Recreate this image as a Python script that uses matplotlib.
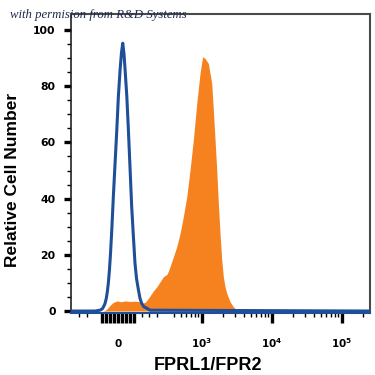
import matplotlib
matplotlib.use("Agg")
import matplotlib.pyplot as plt
import numpy as np

# ---- data (fluorescence value, relative cell number) ----
control_x = [-300, -147, -115, -100, -90, -83, -75, -68, -62, -55, -48, -40, -30, -19, -8, 2, 13, 22, 30,
             38, 45, 56, 66, 77, 87, 98, 108, 118, 130, 140, 151, 165, 183, 204, 250000]
control_y = [0, 0, 0.3, 0.8, 1.8, 2.7, 4.5, 7.0, 9.9, 14.5, 20.5, 28.8, 40.7, 52.6, 64.4, 76.3, 85.8, 92.0, 95.3,
             91.5, 85.8, 76.3, 64.4, 50.2, 37.1, 26.4, 17.0, 11.5, 7.5, 4.5, 2.7, 1.5, 1.0, 0.3, 0]

stained_x = [-300, -96, -80, -70, -51, -32, -6, 19, 45, 77, 108, 140, 159, 175, 193, 215, 230, 247, 268, 289,
             317, 335, 353, 394, 440, 491, 547, 612, 682, 760, 850, 947, 1000, 1035, 1117, 1245, 1392, 1467,
             1552, 1641, 1730, 1829, 1934, 2039, 2150, 2281, 2542, 2833, 3168, 3532, 250000]
stained_y = [0, 0, 0.3, 0.8, 2.0, 3.0, 3.6, 3.3, 3.6, 3.4, 3.5, 3.3, 2.8, 3.2, 4.5, 6.3, 7.5, 8.6, 10.4, 12.2,
             13.0, 14.2, 15.8, 19.3, 22.9, 27.6, 33.6, 40.7, 50.2, 60.9, 73.9, 84.6, 88.5, 90.5, 89.9, 88.1, 81.0, 71.5,
             60.9, 50.2, 38.3, 27.6, 18.1, 12.2, 8.8, 6.3, 3.3, 1.5, 0.4, 0, 0]

xtick_values = [0, 1e3, 1e4, 1e5]
xtick_labels = [r"$\mathbf{0}$", r"$\mathbf{10^3}$", r"$\mathbf{10^4}$", r"$\mathbf{10^5}$"]
ytick_values = [0, 20, 40, 60, 80, 100]

BLUE = "#1f4f99"
ORANGE = "#f5821f"

plt.rcParams['mathtext.fontset'] = 'dejavusans'

fig = plt.figure(figsize=(3.75, 3.75), dpi=100)
ax = fig.add_axes([71/375, 1-313/375, 299/375, 299/375])

ax.set_xscale('symlog', linthresh=300, linscale=0.605)
ax.set_xlim(-300, 2.54e5)
ax.set_ylim(-0.7, 105.7)

ax.fill_between(stained_x, stained_y, 0, color=ORANGE, lw=0, zorder=2)
ax.plot(control_x, control_y, color=BLUE, lw=2.2, zorder=3, solid_joinstyle='round')

# x ticks: cluster near zero drawn as long ticks, decade majors labelled
cluster = [-100, -75, -50, -25, 25, 50, 75, 100]
maj = sorted(cluster + xtick_values)
labels = []
for v in maj:
    labels.append(xtick_labels[xtick_values.index(v)] if v in xtick_values else "")
ax.set_xticks(maj)
ax.set_xticklabels(labels)
minor = [-250, -200, 150, 200, 250] + [k * 10**e for e in (2, 3, 4) for k in range(2, 10) if k * 10**e > 300] + [2e5]
ax.set_xticks(minor, minor=True)
ax.tick_params(axis='x', which='major', direction='out', length=7, width=2.4, color='black', pad=10,
               labelsize=7.5)
ax.tick_params(axis='x', which='minor', direction='out', length=3, width=1.0, color='black')
for t in ax.get_xticklabels():
    t.set_fontweight('bold')

ax.set_yticks(ytick_values)
ax.set_yticks(np.arange(0, 101, 5), minor=True)
ax.tick_params(axis='y', which='major', direction='out', length=5, width=2.4, color='black', pad=6,
               labelsize=7.8)
ax.tick_params(axis='y', which='minor', direction='out', length=3, width=1.0, color='black')
for t in ax.get_yticklabels():
    t.set_fontweight('bold')
    t.set_family('DejaVu Sans')

for s in ('top', 'right'):
    ax.spines[s].set_color('#4a4a4a')
    ax.spines[s].set_linewidth(1.5)
ax.spines['left'].set_color('#222222')
ax.spines['left'].set_linewidth(1.2)
ax.spines['bottom'].set_color(BLUE)
ax.spines['bottom'].set_linewidth(1.5)

ax.set_ylabel("Relative Cell Number", fontsize=12.5, fontweight='bold', family='Liberation Sans',
              va='center', ha='center')
ax.yaxis.set_label_coords((13 - 71) / 299, (313 - 180) / 299)
ax.set_xlabel("FPRL1/FPR2", fontsize=13, fontweight='bold', family='Liberation Sans',
              va='center', ha='center')
ax.xaxis.set_label_coords((208 - 71) / 299, (313 - 365) / 299)

fig.text(10/375, 1 - 15/375, "with permision from R&D Systems", fontsize=9.2, style='italic',
         family='Liberation Serif', color='#1c2a4a', va='center', ha='left', zorder=10)

fig.savefig("out.png", dpi=100)
